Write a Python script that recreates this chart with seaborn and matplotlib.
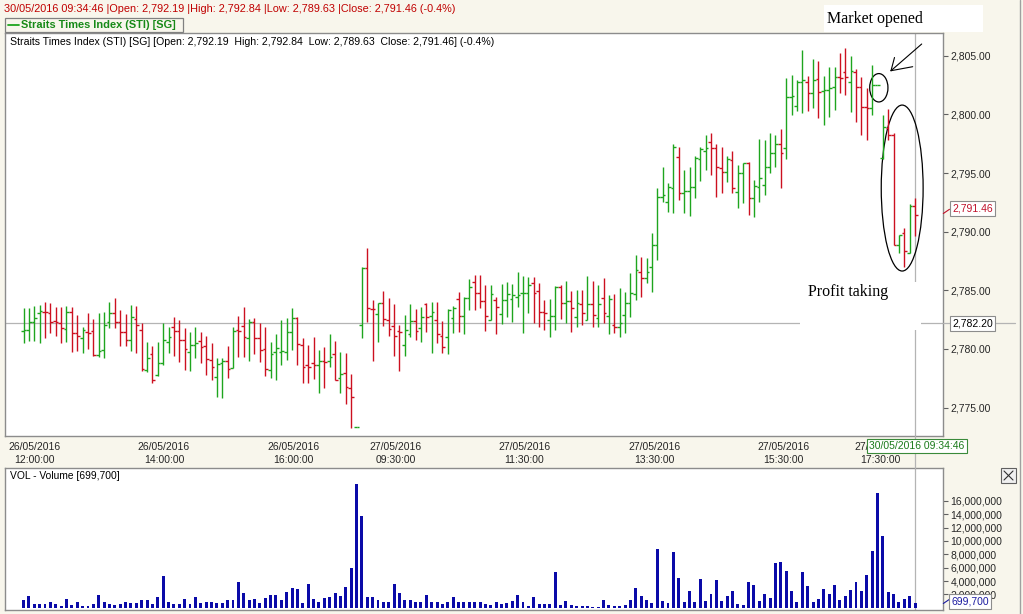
import numpy as np
import pandas as pd
import matplotlib
matplotlib.use("Agg")
import matplotlib.pyplot as plt
import seaborn as sns
from matplotlib.patches import Rectangle, Ellipse
from matplotlib.lines import Line2D

# ---------------- data (5-minute bars, STI) ----------------
open_ = [
    2781.53, 2781.61, 2782.33, 2783.04, 2783.18, 2783.04, 2782.41, 2782.24, 2781.67, 2783.18,
    2781.33, 2780.96, 2781.47, 2781.53, 2779.48, 2779.91, 2782.27, 2783.04, 2782.27, 2781.47,
    2780.76, 2782.52, 2781.61, 2778.20, 2779.54, 2777.78, 2778.77, 2780.62, 2781.90, 2781.56,
    2780.76, 2779.77, 2780.34, 2780.68, 2780.25, 2779.06, 2777.58, 2778.83, 2778.97, 2778.35,
    2781.61, 2781.96, 2780.90, 2782.33, 2780.96, 2779.97, 2778.20, 2779.77, 2779.77, 2779.77,
    2781.47, 2782.67, 2780.34, 2778.63, 2778.77, 2778.63, 2779.00, 2779.00, 2779.57, 2777.50,
    2777.98, 2776.65, 2773.32,
    2782.04, 2786.93, 2783.41, 2782.95, 2783.95, 2782.47, 2781.96, 2781.56, 2780.34, 2781.27,
    2782.41, 2781.76, 2783.83, 2782.81, 2782.47, 2781.10, 2780.99, 2782.61, 2784.23, 2782.81,
    2784.31, 2785.68, 2784.74, 2784.12, 2782.47, 2784.17, 2782.98, 2784.17, 2784.23, 2784.46,
    2784.74, 2784.74, 2785.59, 2784.97, 2783.18, 2782.47, 2782.81, 2785.25, 2783.95, 2784.12,
    2782.69, 2783.83, 2782.47, 2783.83, 2782.61, 2784.31, 2782.81, 2782.04, 2781.84, 2782.90,
    2783.95, 2784.69, 2786.59, 2786.02, 2787.00, 2788.86, 2792.93, 2792.56, 2793.69, 2796.39,
    2793.33, 2793.50, 2793.84, 2796.17, 2796.91, 2797.67, 2797.10, 2795.40, 2795.12, 2796.11,
    2793.41, 2794.97, 2795.83, 2792.84, 2793.84, 2793.98, 2795.48, 2796.68, 2797.47, 2797.10,
    2801.51, 2800.71, 2802.79, 2802.79, 2801.79, 2802.99, 2802.02, 2802.08, 2802.36, 2803.21,
    2803.64, 2802.79, 2803.64, 2802.36, 2800.66, 2800.51,
    2802.50, 2796.25, 2798.81, 2798.24, 2788.86, 2789.86, 2788.21, 2792.19]
high = [
    2783.46, 2783.46, 2783.66, 2783.75, 2783.97, 2783.89, 2783.60, 2783.60, 2783.66, 2783.60,
    2782.89, 2781.90, 2783.09, 2782.55, 2783.04, 2783.18, 2784.00, 2784.31, 2783.32, 2782.98,
    2783.75, 2783.66, 2782.18, 2780.62, 2780.25, 2780.62, 2782.18, 2781.90, 2782.69, 2782.47,
    2781.76, 2781.47, 2781.90, 2781.47, 2781.10, 2780.48, 2779.20, 2779.20, 2780.25, 2781.84,
    2782.81, 2783.55, 2782.52, 2782.61, 2782.18, 2781.84, 2780.62, 2781.27, 2782.47, 2782.61,
    2783.46, 2782.69, 2780.90, 2780.34, 2781.05, 2779.91, 2780.20, 2781.28, 2780.68, 2779.77,
    2779.63, 2777.87, 2773.32,
    2786.96, 2788.58, 2784.17, 2783.95, 2784.94, 2784.31, 2783.83, 2782.04, 2782.89, 2783.83,
    2783.38, 2783.55, 2783.89, 2784.03, 2784.03, 2782.41, 2783.38, 2783.66, 2784.88, 2784.46,
    2785.96, 2786.30, 2786.30, 2785.45, 2785.45, 2784.46, 2785.54, 2785.74, 2785.54, 2786.53,
    2786.22, 2786.16, 2786.10, 2785.65, 2784.17, 2784.23, 2785.37, 2785.45, 2785.79, 2784.97,
    2785.02, 2785.02, 2786.22, 2785.82, 2785.45, 2786.02, 2784.60, 2784.68, 2785.17, 2784.89,
    2786.45, 2788.01, 2787.87, 2787.73, 2789.86, 2793.69, 2795.54, 2794.12, 2797.47, 2797.19,
    2795.26, 2795.54, 2796.45, 2797.19, 2798.24, 2798.44, 2797.47, 2797.25, 2796.45, 2796.88,
    2795.68, 2795.88, 2795.97, 2794.40, 2797.87, 2797.81, 2798.38, 2798.24, 2798.72, 2803.07,
    2803.36, 2802.93, 2805.49, 2803.27, 2804.69, 2804.58, 2803.27, 2804.01, 2804.07, 2805.20,
    2805.63, 2804.98, 2803.84, 2803.21, 2802.22, 2804.21,
    2802.50, 2799.95, 2800.43, 2798.38, 2789.72, 2790.28, 2792.36, 2792.84]
low = [
    2780.48, 2780.71, 2780.71, 2780.48, 2780.96, 2781.33, 2781.10, 2780.48, 2780.62, 2779.77,
    2779.85, 2779.63, 2780.00, 2779.43, 2779.34, 2779.26, 2781.76, 2781.76, 2780.25, 2780.25,
    2779.82, 2779.63, 2778.15, 2778.06, 2777.13, 2777.69, 2778.63, 2779.68, 2779.40, 2778.92,
    2778.20, 2778.15, 2779.20, 2778.77, 2777.78, 2777.35, 2775.93, 2775.79, 2777.49, 2778.35,
    2779.28, 2779.28, 2778.97, 2779.57, 2778.92, 2777.69, 2777.49, 2777.35, 2778.63, 2779.06,
    2779.91, 2778.63, 2777.07, 2777.07, 2777.41, 2776.27, 2776.65, 2778.44, 2777.36, 2776.22,
    2775.31, 2773.24, 2773.32,
    2780.90, 2782.33, 2779.00, 2780.62, 2781.96, 2781.10, 2779.40, 2778.15, 2779.40, 2781.05,
    2780.76, 2780.62, 2781.47, 2779.68, 2780.48, 2779.68, 2779.57, 2781.33, 2781.47, 2781.27,
    2783.32, 2783.32, 2783.46, 2781.53, 2782.47, 2781.27, 2782.13, 2782.69, 2782.33, 2783.55,
    2781.39, 2783.04, 2782.24, 2781.90, 2781.61, 2781.05, 2781.61, 2782.52, 2782.24, 2781.47,
    2781.84, 2782.04, 2782.47, 2781.90, 2781.90, 2782.24, 2781.27, 2781.39, 2780.99, 2781.33,
    2782.75, 2784.17, 2784.46, 2785.60, 2784.89, 2787.58, 2792.56, 2791.71, 2791.62, 2792.70,
    2791.56, 2791.34, 2792.84, 2794.35, 2795.26, 2794.83, 2792.98, 2793.33, 2794.26, 2793.27,
    2791.99, 2792.42, 2791.42, 2791.28, 2792.56, 2793.13, 2794.97, 2795.50, 2793.69, 2796.17,
    2799.95, 2800.29, 2800.09, 2800.32, 2800.51, 2799.66, 2799.09, 2799.80, 2800.37, 2801.85,
    2801.65, 2800.23, 2799.38, 2798.24, 2797.81, 2799.95,
    2802.50, 2796.17, 2797.81, 2788.86, 2788.15, 2786.96, 2788.15, 2789.63]
close = [
    2781.61, 2782.33, 2782.61, 2783.23, 2783.12, 2782.33, 2782.33, 2781.76, 2783.18, 2781.33,
    2781.10, 2781.61, 2781.40, 2779.48, 2779.85, 2782.04, 2783.09, 2782.33, 2781.42, 2780.76,
    2782.69, 2782.04, 2778.26, 2779.20, 2777.35, 2778.83, 2780.76, 2781.05, 2781.56, 2780.76,
    2780.00, 2780.34, 2780.48, 2780.19, 2779.11, 2778.49, 2778.72, 2778.97, 2778.29, 2781.56,
    2781.56, 2781.05, 2782.33, 2780.90, 2779.91, 2778.29, 2779.57, 2780.05, 2779.80, 2781.47,
    2782.61, 2780.42, 2778.49, 2778.49, 2778.63, 2779.00, 2778.85, 2779.35, 2777.36, 2777.87,
    2776.73, 2775.88, 2773.32,
    2786.87, 2783.46, 2783.38, 2783.90, 2782.52, 2781.67, 2781.10, 2781.47, 2781.61, 2782.41,
    2781.56, 2782.69, 2782.69, 2783.18, 2781.27, 2780.14, 2783.32, 2783.46, 2782.81, 2784.31,
    2785.25, 2784.74, 2784.12, 2782.81, 2784.68, 2783.60, 2784.17, 2784.68, 2784.60, 2784.60,
    2784.80, 2785.45, 2784.80, 2783.18, 2783.04, 2782.81, 2785.25, 2783.95, 2784.09, 2783.46,
    2783.89, 2783.04, 2783.83, 2782.89, 2783.83, 2783.04, 2784.23, 2781.84, 2782.24, 2783.95,
    2784.74, 2786.73, 2786.02, 2786.59, 2788.90, 2792.98, 2793.10, 2793.84, 2797.19, 2793.27,
    2793.47, 2793.84, 2796.25, 2797.02, 2797.10, 2797.10, 2795.54, 2795.12, 2796.17, 2793.69,
    2794.97, 2795.83, 2792.84, 2793.89, 2794.55, 2795.54, 2796.68, 2797.47, 2796.68, 2801.50,
    2801.57, 2802.79, 2802.90, 2801.79, 2802.93, 2801.94, 2802.08, 2802.22, 2803.16, 2803.10,
    2803.16, 2803.70, 2802.36, 2800.66, 2800.51, 2802.50,
    2802.50, 2798.89, 2798.24, 2788.86, 2789.72, 2788.38, 2792.19, 2791.46]
volume_m = [
    1.1, 1.7, 0.6, 0.5, 0.5, 0.8, 0.6, 0.3, 1.3, 0.4, 0.8, 0.3, 0.3, 0.5, 1.85, 0.8, 0.5, 0.35,
    0.5, 0.8, 0.75, 0.7, 1.2, 1.2, 0.5, 1.6, 4.8, 0.9, 0.5, 0.55, 1.3, 0.5, 1.6, 0.75, 0.8, 0.9,
    0.7, 0.7, 1.1, 1.15, 3.9, 2.15, 1.2, 1.3, 0.7, 1.4, 1.9, 1.9, 1.15, 2.3, 2.9, 2.8, 0.7, 3.6,
    1.35, 0.9, 1.4, 1.6, 2.15, 1.7, 3.1, 5.9, 18.5,
    13.7, 1.6, 1.6, 1.1, 0.9, 0.9, 3.5, 2.15, 1.1, 1.1, 0.9, 0.8, 1.9, 0.9, 0.9, 0.5, 0.9, 1.6,
    0.9, 0.8, 0.8, 0.8, 0.8, 0.6, 0.35, 0.9, 0.5, 0.65, 1.0, 1.9, 0.9, 0.25, 1.6, 0.5, 0.5, 0.5,
    5.4, 0.4, 1.0, 0.4, 0.3, 0.3, 0.3, 0.15, 0.15, 1.15, 0.4, 0.25, 0.25, 0.4, 1.15, 2.9, 1.75,
    1.15, 0.75, 8.75, 1.0, 0.75, 8.3, 4.5, 0.9, 2.55, 0.9, 4.3, 1.0, 2.05, 4.2, 1.0, 1.75, 2.55,
    0.55, 0.4, 3.85, 3.4, 1.0, 2.05, 1.45, 6.7, 6.8, 5.5, 2.55, 0.85, 5.4, 3.25, 0.85, 1.3, 2.8,
    2.05, 3.4, 1.15, 1.75, 2.65, 3.85, 2.55, 4.9, 8.45,
    17.2, 10.7, 2.35, 2.05, 0.85, 1.3, 1.75, 0.7]
tick_pos = [2, 26.15, 50.25, 69.3, 93.2, 117.4, 141.45, 159.5]
tick_labels = ["26/05/2016\n12:00:00", "26/05/2016\n14:00:00", "26/05/2016\n16:00:00",
               "27/05/2016\n09:30:00", "27/05/2016\n11:30:00", "27/05/2016\n13:30:00",
               "27/05/2016\n15:30:00", "27/05/2016\n17:30:00"]
price_ticks = [2775, 2780, 2785, 2790, 2795, 2800, 2805]
vol_ticks_m = [2, 4, 6, 8, 10, 12, 14, 16]
cursor_price = 2782.20
cursor_bar = 166
last_close = 2791.46
last_volume = 699700

# ---------------- style ----------------
sns.set_style("white")
plt.rcParams["font.family"] = ["Liberation Sans", "DejaVu Sans"]

W, H = 1023, 614
BG = "#f8f6ec"
GREEN = "#1ea51e"
RED = "#cc1020"
BLUE = "#0a0aa8"
GRID = "#b4b4b4"
SPINE = "#8c8c8c"

def fx(x):
    return x / W

def fy(y):
    return 1 - y / H

fig = plt.figure(figsize=(W / 100, H / 100), dpi=100, facecolor=BG)

n = len(open_)
df = pd.DataFrame({"idx": np.arange(n), "open": open_, "high": high, "low": low,
                   "close": close, "vol": np.array(volume_m) * 1e6})
df["up"] = df["close"] >= df["open"]
cols = np.where(df["up"], GREEN, RED)

XMIN, XMAX = -3.45, 171.2
YMIN, YMAX = 2772.58, 2806.94

# ---------------- price panel ----------------
ax1 = fig.add_axes([fx(5), fy(436), (943 - 5) / W, (436 - 33) / H])
ax1.set_facecolor("white")
hi = np.maximum(df["high"], np.maximum(df["open"], df["close"]))
lo = np.minimum(df["low"], np.minimum(df["open"], df["close"]))
ax1.vlines(df["idx"], lo, hi, colors=cols, linewidth=1.0)
ax1.hlines(df["open"], df["idx"] - 0.5, df["idx"], colors=cols, linewidth=1.0)
ax1.hlines(df["close"], df["idx"], df["idx"] + 0.5, colors=cols, linewidth=1.0)
ax1.axhline(cursor_price, color=GRID, lw=0.9, zorder=0)
ax1.axvline(cursor_bar, color=GRID, lw=0.9, zorder=0)
ax1.set_xlim(XMIN, XMAX)
ax1.set_ylim(YMIN, YMAX)
ax1.yaxis.tick_right()
ax1.set_yticks(price_ticks)
ax1.set_yticklabels([f"{v:,.2f}" for v in price_ticks])
ax1.set_xticks(tick_pos)
ax1.set_xticklabels(tick_labels, linespacing=1.3)
ax1.tick_params(axis="both", direction="out", length=3.5, width=0.8, color="#606060",
                labelsize=7.5, pad=2)
ax1.tick_params(axis="x", pad=1.0)
for s in ax1.spines.values():
    s.set_color(SPINE)
    s.set_linewidth(1.0)
ax1.set_xlabel("")
ax1.set_ylabel("")

ax1.add_patch(Ellipse((159.25, 2802.27), 3.4, 2.42, fill=False, ec="black", lw=0.9))
ax1.add_patch(Ellipse((163.6, 2793.72), 7.8, 14.15, fill=False, ec="black", lw=0.9))

# ---------------- volume panel ----------------
ax2 = fig.add_axes([fx(5), fy(610), (943 - 5) / W, (610 - 468) / H])
ax2.set_facecolor("white")
sns.barplot(data=df, x="idx", y="vol", native_scale=True, color=BLUE, saturation=1,
            width=0.55, errorbar=None, ax=ax2, linewidth=0)
ax2.axvline(cursor_bar, color=GRID, lw=0.9, zorder=0)
ax2.set_xlim(XMIN, XMAX)
ax2.set_ylim(-0.33e6, 20.9e6)
ax2.yaxis.tick_right()
ax2.set_yticks([v * 1e6 for v in vol_ticks_m])
ax2.set_yticklabels([f"{v * 1e6:,.0f}" for v in vol_ticks_m])
ax2.set_xticks([])
ax2.tick_params(axis="y", direction="out", length=3.5, width=0.8, color="#606060",
                labelsize=7.5, pad=2)
for s in ax2.spines.values():
    s.set_color(SPINE)
    s.set_linewidth(1.0)
ax2.set_xlabel("")
ax2.set_ylabel("")

# ---------------- figure-level decorations ----------------
def fline(xs, ys, color="black", lw=0.8, z=3):
    fig.add_artist(Line2D([fx(x) for x in xs], [fy(y) for y in ys], color=color, lw=lw,
                          zorder=z, transform=fig.transFigure))

def frect(x0, y0, x1, y1, fc="white", ec="none", lw=0.8, z=2):
    fig.add_artist(Rectangle((fx(x0), fy(y1)), fx(x1) - fx(x0), (y1 - y0) / H, fc=fc, ec=ec,
                             lw=lw, zorder=z, transform=fig.transFigure))

# crosshair parts outside axes
fline([943, 1015], [323.1, 323.1], color=GRID, lw=0.9, z=1)
fline([915.1, 915.1], [436, 468], color=GRID, lw=0.9, z=1)

# header
fig.text(fx(4), fy(8.5), "30/05/2016 09:34:46 |Open: 2,792.19 |High: 2,792.84 |Low: 2,789.63 "
         "|Close: 2,791.46 (-0.4%)", color="#c00000", fontsize=7.8, va="center", ha="left")
# legend box
frect(5, 18, 183, 31.5, fc=BG, ec="#808080", lw=0.9, z=2)
fline([7.5, 18.5], [25, 25], color=GREEN, lw=1.3, z=3)
fig.text(fx(21), fy(25), "Straits Times Index (STI) [SG]", color="#188a18", fontsize=7.9,
         fontweight="bold", va="center", ha="left")
# inner titles
fig.text(fx(10), fy(42), "Straits Times Index (STI) [SG] [Open: 2,792.19  High: 2,792.84  "
         "Low: 2,789.63  Close: 2,791.46] (-0.4%)", color="black", fontsize=7.6,
         va="center", ha="left")
fig.text(fx(10), fy(476), "VOL - Volume [699,700]", color="black", fontsize=7.4,
         va="center", ha="left")

# annotations
frect(824, 5, 983, 31.5, fc="white", z=2)
fig.text(fx(827), fy(19), "Market opened", family="Liberation Serif", fontsize=11.5,
         color="black", va="center", ha="left", zorder=3)
fline([921.7, 891], [44, 70.7], lw=0.8, z=4)
fline([891, 894.5], [70.7, 57.5], lw=0.8, z=4)
fline([891, 912.7], [70.7, 66.7], lw=0.8, z=4)
frect(800, 282, 921, 330, fc="white", z=2)
fig.text(fx(808), fy(292), "Profit taking", family="Liberation Serif", fontsize=11.5,
         color="black", va="center", ha="left", zorder=3)

# right axis value boxes
box = dict(boxstyle="square,pad=0.22", fc="white", ec="#8c8c8c", lw=0.8)
fig.text(fx(952), fy(208.5), f"{last_close:,.2f}", color="#c0102a", fontsize=7.5,
         va="center", ha="left", bbox=box, zorder=4)
fline([943.3, 949.5], [213.5, 209.3], color="#c0102a", lw=0.8, z=4)
fig.text(fx(952), fy(323.5), f"{cursor_price:,.2f}", color="black", fontsize=7.5,
         va="center", ha="left", bbox=box, zorder=4)
fig.text(fx(951), fy(601.5), f"{last_volume:,}", color="#1a1aa0", fontsize=7.5,
         va="center", ha="left", bbox=box, zorder=4)
fline([943.3, 949.5], [603.5, 599.3], color="#1a1aa0", lw=0.8, z=4)
# time box
fig.text(fx(869), fy(446), "30/05/2016 09:34:46", color="#1a7a1a", fontsize=7.5,
         va="center", ha="left", zorder=4,
         bbox=dict(boxstyle="square,pad=0.22", fc="white", ec="#3a8a3a", lw=0.8))
# close button
frect(1001, 468, 1016, 483, fc="#f0f0f0", ec="#606060", lw=0.8, z=3)
fline([1004, 1013], [471, 480], color="#303030", lw=0.8, z=4)
fline([1004, 1013], [480, 471], color="#303030", lw=0.8, z=4)
# right border
fline([1019.5, 1019.5], [0, 614], color="#a0a0a0", lw=1.0, z=1)

fig.savefig("out.png", dpi=100, facecolor=BG)
